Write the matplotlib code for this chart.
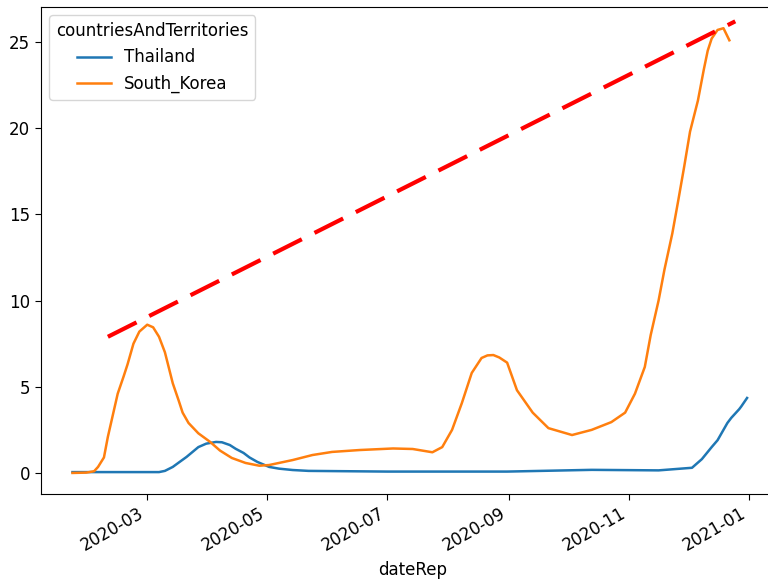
import matplotlib
matplotlib.use("Agg")
import matplotlib.pyplot as plt
import matplotlib.dates as mdates
import pandas as pd

# smoothed daily cases per country
thailand_dates = ['2020-01-23', '2020-03-07', '2020-03-10', '2020-03-14', '2020-03-17',
                  '2020-03-21', '2020-03-27', '2020-03-31', '2020-04-05', '2020-04-08',
                  '2020-04-12', '2020-04-15', '2020-04-19', '2020-04-22', '2020-04-26',
                  '2020-05-02', '2020-05-07', '2020-05-14', '2020-05-22', '2020-07-01',
                  '2020-08-31', '2020-10-13', '2020-11-16', '2020-12-03', '2020-12-08',
                  '2020-12-13', '2020-12-16', '2020-12-21', '2020-12-23', '2020-12-27',
                  '2020-12-28', '2020-12-31']
thailand_values = [0.05, 0.05, 0.12, 0.35, 0.6,
                   0.93, 1.5, 1.7, 1.8, 1.78,
                   1.62, 1.4, 1.16, 0.9, 0.64,
                   0.35, 0.25, 0.17, 0.12, 0.08,
                   0.08, 0.18, 0.15, 0.3, 0.8,
                   1.5, 1.9, 2.9, 3.2, 3.7,
                   3.85, 4.35]

korea_dates = ['2020-01-23', '2020-01-30', '2020-02-03', '2020-02-05', '2020-02-08',
               '2020-02-10', '2020-02-13', '2020-02-15', '2020-02-18', '2020-02-20',
               '2020-02-23', '2020-02-26', '2020-03-01', '2020-03-04', '2020-03-07',
               '2020-03-10', '2020-03-12', '2020-03-14', '2020-03-17', '2020-03-19',
               '2020-03-22', '2020-03-27', '2020-04-02', '2020-04-07', '2020-04-13',
               '2020-04-20', '2020-04-27', '2020-05-02', '2020-05-14', '2020-05-24',
               '2020-06-03', '2020-06-17', '2020-07-04', '2020-07-14', '2020-07-24',
               '2020-07-29', '2020-08-03', '2020-08-08', '2020-08-13', '2020-08-18',
               '2020-08-21', '2020-08-24', '2020-08-27', '2020-08-31', '2020-09-05',
               '2020-09-13', '2020-09-21', '2020-10-03', '2020-10-13', '2020-10-23',
               '2020-10-30', '2020-11-04', '2020-11-09', '2020-11-12', '2020-11-16',
               '2020-11-19', '2020-11-23', '2020-11-26', '2020-11-29', '2020-12-02',
               '2020-12-06', '2020-12-09', '2020-12-11', '2020-12-13', '2020-12-16',
               '2020-12-19', '2020-12-22']
korea_values = [0.0, 0.02, 0.1, 0.35, 0.9,
                2.1, 3.6, 4.6, 5.6, 6.3,
                7.5, 8.2, 8.6, 8.45, 7.9,
                7.0, 6.1, 5.2, 4.2, 3.5,
                2.9, 2.3, 1.8, 1.3, 0.87,
                0.58, 0.42, 0.46, 0.75, 1.04,
                1.22, 1.33, 1.42, 1.39, 1.2,
                1.5, 2.5, 4.06, 5.8, 6.67,
                6.82, 6.84, 6.7, 6.4, 4.8,
                3.5, 2.6, 2.2, 2.5, 2.95,
                3.5, 4.6, 6.15, 8.0, 10.0,
                11.8, 13.9, 15.8, 17.75, 19.8,
                21.6, 23.4, 24.5, 25.2, 25.7,
                25.8, 25.1]

trend_dates = ['2020-02-10', '2020-12-25']
trend_values = [7.9, 26.2]

plt.rcParams['font.size'] = 12
plt.rcParams['xtick.major.size'] = 4.2
plt.rcParams['ytick.major.size'] = 4.2

fig = plt.figure(figsize=(7.68, 5.8), dpi=100)
ax = fig.add_axes([0.0534, 0.1483, 0.968, 0.8396])

ax.plot(pd.to_datetime(thailand_dates), thailand_values, color='#1f77b4', lw=1.8, label='Thailand')
ax.plot(pd.to_datetime(korea_dates), korea_values, color='#ff7f0e', lw=1.8, label='South_Korea')
ax.plot(pd.to_datetime(trend_dates), trend_values, color='red', lw=3, ls=(0, (7.7, 3.4)))

ax.set_xlim(pd.Timestamp('2020-01-07'), pd.Timestamp('2021-01-19'))
ax.set_ylim(-1.22, 27.03)
ax.xaxis.set_major_locator(mdates.MonthLocator(bymonth=[1, 3, 5, 7, 9, 11]))
ax.xaxis.set_major_formatter(mdates.DateFormatter('%Y-%m'))
for lbl in ax.get_xticklabels():
    lbl.set_rotation(30)
    lbl.set_ha('right')

ax.set_xlabel('dateRep')
ax.legend(title='countriesAndTerritories', loc='upper left', title_fontsize=12)

plt.savefig('out.png', dpi=100)
